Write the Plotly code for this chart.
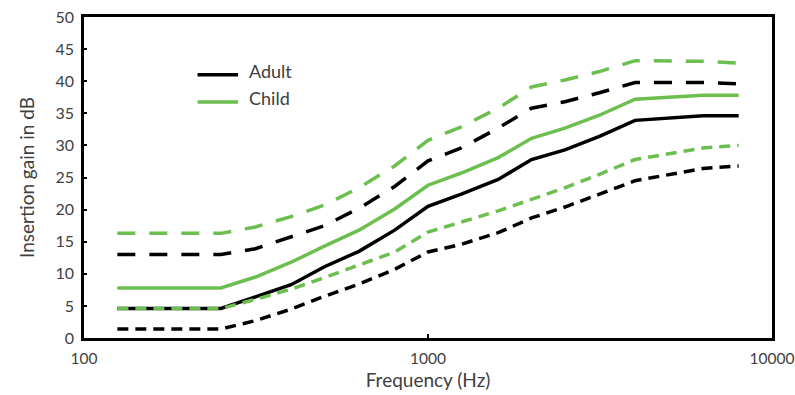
import plotly.graph_objects as go

freqs = [125, 250, 315, 400, 500, 630, 800, 1000, 1250, 1600, 2000, 2500, 3150, 4000, 6300, 8000]

adult_mean = [4.6, 4.6, 6.4, 8.3, 11.1, 13.5, 16.8, 20.5, 22.4, 24.7, 27.8, 29.3, 31.4, 33.9, 34.6, 34.6]
adult_upper = [13.0, 13.0, 13.9, 15.7, 17.5, 20.2, 23.6, 27.6, 29.6, 32.7, 35.8, 36.8, 38.2, 39.8, 39.8, 39.6]
adult_lower = [1.4, 1.4, 2.7, 4.5, 6.5, 8.4, 10.7, 13.4, 14.6, 16.4, 18.7, 20.4, 22.4, 24.5, 26.4, 26.8]

child_mean = [7.8, 7.8, 9.5, 11.8, 14.3, 16.8, 20.1, 23.8, 25.7, 28.1, 31.1, 32.7, 34.7, 37.2, 37.8, 37.8]
child_upper = [16.3, 16.3, 17.3, 18.9, 20.7, 23.4, 26.8, 30.8, 32.9, 35.8, 39.1, 40.2, 41.5, 43.2, 43.1, 42.8]
child_lower = [4.6, 4.6, 6.0, 7.6, 9.4, 11.3, 13.4, 16.5, 18.0, 19.8, 21.6, 23.4, 25.5, 27.8, 29.6, 30.0]

x_tick_vals = [100, 1000, 10000]
x_tick_text = ["100", "1000", "10000"]

BLACK = "#000000"
GREEN = "#6cbf4f"
TXT = "#404040"
FONT = "Lato"

fig = go.Figure()

def add(y, color, dash, name=None):
    fig.add_trace(go.Scatter(
        x=freqs, y=y, mode="lines",
        line=dict(color=color, width=3.5, dash=dash),
        name=name, showlegend=False, hoverinfo="skip"))

add(child_upper, GREEN, "18px,14px")
add(adult_upper, BLACK, "18px,14px")
add(child_mean, GREEN, "solid", "Child")
add(adult_lower, BLACK, "11px,7px")
add(adult_mean, BLACK, "solid", "Adult")
add(child_lower, GREEN, "11px,7px")

# legend (drawn manually to match the reference layout)
legend_items = [("Adult", BLACK, 0.82), ("Child", GREEN, 0.735)]
for label, color, yy in legend_items:
    fig.add_shape(type="line", xref="paper", yref="paper",
                  x0=0.165, x1=0.224, y0=yy, y1=yy,
                  line=dict(color=color, width=3.5))
    fig.add_annotation(xref="paper", yref="paper", x=0.237, y=yy + 0.012,
                       text=label, showarrow=False, xanchor="left", yanchor="middle",
                       font=dict(family=FONT, size=18, color=TXT))

fig.update_layout(
    width=795, height=395,
    margin=dict(l=84, r=23, t=17, b=57),
    paper_bgcolor="white", plot_bgcolor="white",
    font=dict(family=FONT, color=TXT, size=15),
    showlegend=False,
)
fig.update_xaxes(
    type="log", range=[2, 4], automargin=False,
    tickvals=x_tick_vals, ticktext=x_tick_text,
    showgrid=False, zeroline=False,
    showline=True, linecolor="black", linewidth=2.5, mirror=True,
    ticks="inside", ticklen=4, tickcolor="black", tickwidth=1.5,
    ticklabelstandoff=5, ticklabeloverflow="allow",
    tickfont=dict(size=15.5, color=TXT),
    title=dict(text="Frequency (Hz)", font=dict(size=19, color=TXT), standoff=8),
)
fig.update_yaxes(
    range=[0, 50], dtick=5, automargin=False,
    showgrid=False, zeroline=False,
    showline=True, linecolor="black", linewidth=2.5, mirror=True,
    ticks="inside", ticklen=3, tickcolor="black", tickwidth=1.5,
    ticklabelstandoff=4, ticklabeloverflow="allow",
    tickfont=dict(size=16, color=TXT),
    title=dict(text="Insertion gain in dB", font=dict(size=19, color=TXT), standoff=16),
)

fig.write_html("out.html")
